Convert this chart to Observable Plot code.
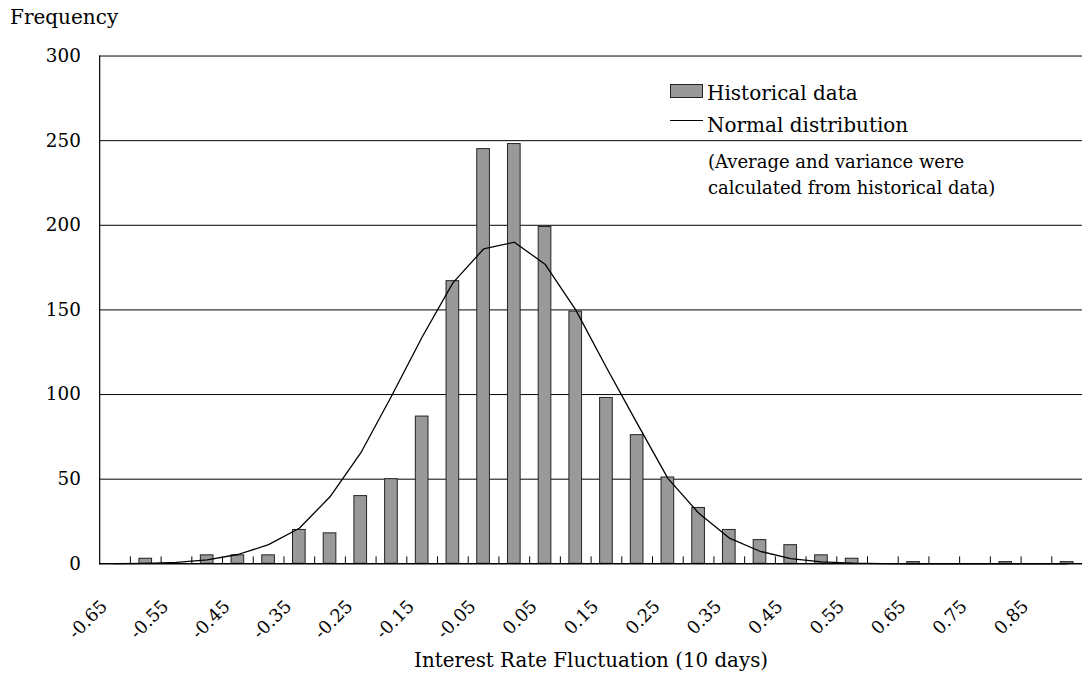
<!DOCTYPE html>
<html>
<head>
<meta charset="utf-8">
<script src="https://cdn.jsdelivr.net/npm/d3@7"></script>
<script src="https://cdn.jsdelivr.net/npm/@observablehq/plot@0.6"></script>
<style>
html, body { margin: 0; padding: 0; background: #fff; overflow: hidden; }
#wrap { position: relative; width: 1082px; height: 681px; overflow: hidden; font-family: "DejaVu Serif", serif; color: #000; }
#chart { position: absolute; left: 0; top: 0; }
.t { position: absolute; white-space: nowrap; }
#ytitle { left: 10px; top: 7px; font-size: 20px; line-height: 20px; }
#sw1 { left: 670px; top: 84px; width: 31px; height: 12px; background: #999; border: 1px solid #222; }
#lg1 { left: 707px; top: 83px; font-size: 20px; line-height: 20px; }
#sw2 { left: 670px; top: 120px; width: 33px; height: 0; border-top: 1.3px solid #000; }
#lg2 { left: 707px; top: 115px; font-size: 20px; line-height: 20px; }
#note { left: 708px; top: 149px; font-size: 18px; line-height: 26px; }
</style>
</head>
<body>
<div id="wrap">
  <div id="chart"></div>
  <div class="t" id="ytitle">Frequency</div>
  <div class="t" id="sw1"></div>
  <div class="t" id="lg1">Historical data</div>
  <div class="t" id="sw2"></div>
  <div class="t" id="lg2">Normal distribution</div>
  <div class="t" id="note">(Average and variance were<br>calculated from historical data)</div>
</div>
<script>
// Category centres (interest rate fluctuation, 10 days)
const categories = [-0.65, -0.60, -0.55, -0.50, -0.45, -0.40, -0.35, -0.30, -0.25, -0.20, -0.15, -0.10,
  -0.05, 0.00, 0.05, 0.10, 0.15, 0.20, 0.25, 0.30, 0.35, 0.40, 0.45, 0.50, 0.55, 0.60, 0.65, 0.70,
  0.75, 0.80, 0.85, 0.90];
// Historical data (frequency)
const counts = [0, 3, 0, 5, 5, 5, 20, 18, 40, 50, 87, 167, 245, 248, 199, 149, 98, 76, 51, 33, 20, 14,
  11, 5, 3, 0, 1, 0, 0, 1, 0, 1];
// Normal distribution curve
const normal = [0.1, 0.3, 0.8, 2.3, 5.5, 11.3, 21, 39.6, 65.5, 99, 134, 166, 186, 190, 177, 150, 116,
  83, 50.5, 30, 15.2, 7.4, 3.1, 1.2, 0.4, 0.1, 0, 0, 0, 0, 0, 0];
// Tick labels
const xTickLabels = ["-0.65", "-0.55", "-0.45", "-0.35", "-0.25", "-0.15", "-0.05", "0.05", "0.15",
  "0.25", "0.35", "0.45", "0.55", "0.65", "0.75", "0.85"];
const yTicks = [0, 50, 100, 150, 200, 250, 300];
const xTitle = "Interest Rate Fluctuation (10 days)";

const half = 0.025;
const data = categories.map((c, i) => ({cat: c, count: counts[i], norm: normal[i]}));
const bars = data.filter(d => d.count > 0);
const boundaries = categories.slice(1).map(c => c - half);
const xTicks = xTickLabels.map(s => ({v: +s, s}));

const chart = Plot.plot({
  width: 1091,
  height: 681,
  marginLeft: 100,
  marginRight: 0,
  marginTop: 56,
  marginBottom: 113,
  style: {fontFamily: "DejaVu Serif", fontSize: "18px", background: "transparent", color: "#000"},
  x: {domain: [categories[0] - half, categories[categories.length - 1] + half], axis: null},
  y: {domain: [0, 300], axis: null},
  marks: [
    Plot.ruleY(yTicks.slice(1), {stroke: "#000", strokeWidth: 1}),
    Plot.rectY(bars, {x1: d => d.cat - half, x2: d => d.cat + half, y1: 0, y2: "count",
      insetLeft: 9.1, insetRight: 9.1, fill: "#999", stroke: "#222", strokeWidth: 1}),
    Plot.lineY(data, {x: "cat", y: "norm", stroke: "#000", strokeWidth: 1.3}),
    Plot.ruleX(boundaries, {y1: 0, y2: 4.1, stroke: "#000", strokeWidth: 1}),
    Plot.ruleY([0], {stroke: "#000", strokeWidth: 1.6}),
    Plot.frame({anchor: "left", stroke: "#000", strokeWidth: 1.2}),
    Plot.axisY({ticks: yTicks, tickSize: 0, tickPadding: 19, fontSize: 18.5, label: null}),
    Plot.text(xTicks, {x: "v", y: 0, text: "s", rotate: -45, textAnchor: "end", lineAnchor: "middle",
      dx: -11, dy: 40, fontSize: 18, fill: "#000"}),
    Plot.text([xTitle], {frameAnchor: "bottom", lineAnchor: "middle", dy: 98, fontSize: 20, fill: "#000"})
  ]
});
document.getElementById("chart").appendChild(chart);
</script>
</body>
</html>
